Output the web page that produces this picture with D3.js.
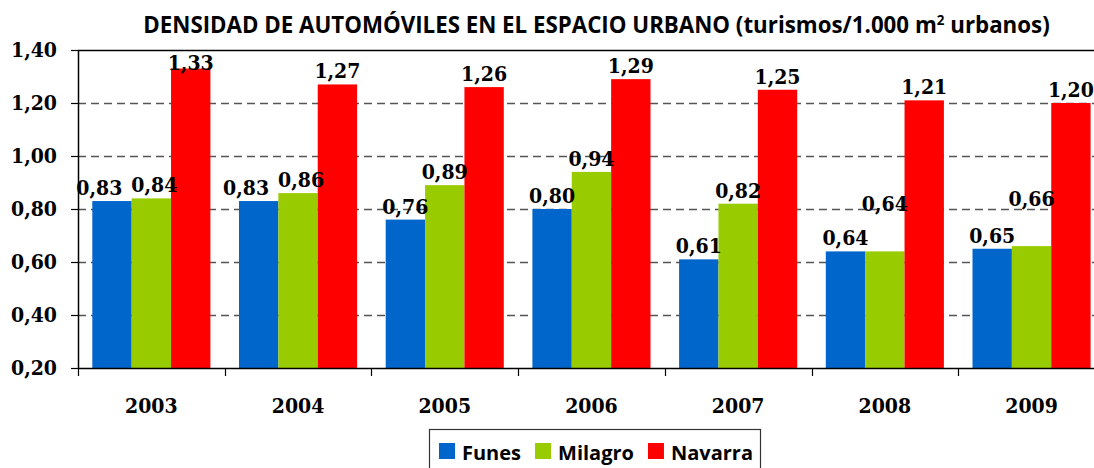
<!DOCTYPE html>
<html>
<head>
<meta charset="utf-8">
<script src="https://cdn.jsdelivr.net/npm/d3@7"></script>
<style>
  html, body { margin: 0; padding: 0; background: #fff; }
  svg { display: block; }
  .num { font-family: 'DejaVu Serif Condensed', 'DejaVu Serif', serif; font-stretch: condensed; font-weight: bold; }
</style>
</head>
<body>
<svg id="chart" width="1094" height="468"></svg>
<script>
const years = ["2003", "2004", "2005", "2006", "2007", "2008", "2009"];
const seriesNames = ["Funes", "Milagro", "Navarra"];
const funes   = [0.83, 0.83, 0.76, 0.80, 0.61, 0.64, 0.65];
const milagro = [0.84, 0.86, 0.89, 0.94, 0.82, 0.64, 0.66];
const navarra = [1.33, 1.27, 1.26, 1.29, 1.25, 1.21, 1.20];
const yTicks = [0.20, 0.40, 0.60, 0.80, 1.00, 1.20, 1.40];
const colors = ["#0066CC", "#99CC00", "#FF0000"];
// labels that Excel moved up to avoid a neighbour label (Milagro series)
const milagroLabelRaised = [false, false, false, false, false, true, true];

(function () {
const seriesValues = [funes, milagro, navarra];
const fmt = v => v.toFixed(2).replace(".", ",");

const svg = d3.select("#chart");
const mLeft = 78, mTop = 50, mBottom = 368;
const bandW = 146.7;
const mRight = mLeft + years.length * bandW;

const x0 = d3.scaleBand().domain(years).range([mLeft, mRight]).paddingInner(0).paddingOuter(0);
const x1 = d3.scaleBand().domain(seriesNames).range([14.3, bandW - 14.3]).padding(0);
const y = d3.scaleLinear().domain([0.2, 1.4]).range([mBottom, mTop]);

const sansFont = "'Open Sans', 'Noto Sans', sans-serif";
const numSize = 21;

// gridlines
svg.append("g").selectAll("line")
  .data(yTicks.filter(t => t > 0.2 && t < 1.4))
  .join("line")
  .attr("x1", mLeft).attr("x2", mRight)
  .attr("y1", d => Math.round(y(d)) + 0.5).attr("y2", d => Math.round(y(d)) + 0.5)
  .attr("stroke", "#555").attr("stroke-width", 1.3)
  .attr("stroke-dasharray", "8,5");

// top border
svg.append("line")
  .attr("x1", mLeft).attr("x2", mRight)
  .attr("y1", y(1.4) + 0.5).attr("y2", y(1.4) + 0.5)
  .attr("stroke", "#000").attr("stroke-width", 1.5);

// bars
const groups = svg.append("g").selectAll("g")
  .data(years)
  .join("g")
  .attr("transform", d => `translate(${x0(d)},0)`);

groups.selectAll("rect")
  .data((d, i) => seriesNames.map((s, k) => ({ s, k, v: seriesValues[k][i], i })))
  .join("rect")
  .attr("x", d => x1(d.s))
  .attr("width", x1.bandwidth())
  .attr("y", d => y(d.v))
  .attr("height", d => y(0.2) - y(d.v))
  .attr("fill", d => colors[d.k]);

// value labels
const labels = groups.selectAll("text.val")
  .data((d, i) => seriesNames.map((s, k) => ({ s, k, v: seriesValues[k][i], i })))
  .join("text")
  .attr("class", "val num")
  .attr("x", d => x1(d.s) + x1.bandwidth() / 2)
  .attr("y", d => {
    let b = y(d.v) - 6;
    if (d.k === 1 && milagroLabelRaised[d.i]) b -= 34;
    return Math.max(b, mTop + 20);
  })
  .attr("text-anchor", "middle")
  .attr("font-size", numSize)
  .attr("fill", "#000")
  .text(d => fmt(d.v));

// simple collision resolution between Funes and Milagro labels in each group
groups.each(function () {
  const ts = d3.select(this).selectAll("text.val").nodes();
  const a = ts[0], b = ts[1];
  const ba = a.getBBox(), bb = b.getBBox();
  const hOverlap = ba.x + ba.width > bb.x && bb.x + bb.width > ba.x;
  const vOverlap = ba.y + ba.height - 6 > bb.y && bb.y + bb.height - 6 > ba.y;
  if (hOverlap && vOverlap) {
    const bx = +b.getAttribute("x") + 3;
    b.setAttribute("x", bx);
    const bLeft = bx - bb.width / 2;
    a.setAttribute("x", bLeft - 9 - ba.width / 2);
  }
});

// y axis
const yAxis = svg.append("g")
  .attr("transform", `translate(${mLeft},0)`)
  .call(d3.axisLeft(y).tickValues(yTicks).tickSize(7).tickSizeOuter(0).tickFormat(fmt));
yAxis.attr("font-family", null);
yAxis.select(".domain").attr("stroke", "#000").attr("stroke-width", 1.5);
yAxis.selectAll(".tick line").attr("stroke", "#000").attr("stroke-width", 1.2);
yAxis.selectAll(".tick text")
  .attr("class", "num")
  .attr("x", -21)
  .attr("font-size", numSize)
  .attr("fill", "#000");

// x axis
const xAxis = svg.append("g")
  .attr("transform", `translate(0,${mBottom})`)
  .call(d3.axisBottom(x0).tickSize(0).tickSizeOuter(0));
xAxis.attr("font-family", null);
xAxis.select(".domain").attr("stroke", "#000").attr("stroke-width", 1.5);
xAxis.selectAll(".tick text")
  .attr("class", "num")
  .attr("dy", 0).attr("y", 45)
  .attr("font-size", numSize)
  .attr("fill", "#000");
// category separators
svg.append("g").selectAll("line")
  .data(years)
  .join("line")
  .attr("x1", d => Math.round(x0(d)) + 0.5).attr("x2", d => Math.round(x0(d)) + 0.5)
  .attr("y1", mBottom).attr("y2", mBottom + 8)
  .attr("stroke", "#000").attr("stroke-width", 1.2);

// title
const title = svg.append("text")
  .attr("x", 596.5).attr("y", 33)
  .attr("text-anchor", "middle")
  .attr("font-family", sansFont).attr("font-weight", "bold")
  .attr("font-size", 20).attr("fill", "#000");
title.append("tspan").text("DENSIDAD DE AUTOMÓVILES EN EL ESPACIO URBANO (turismos/1.000 m");
title.append("tspan").attr("dy", -8).attr("font-size", "0.6em").text("2");
title.append("tspan").attr("dy", 8).text(" urbanos)");
const tw = title.node().getComputedTextLength();
title.attr("font-size", 20 * 907 / tw);

// legend
const lg = svg.append("g");
lg.append("rect")
  .attr("x", 429.5).attr("y", 429.5).attr("width", 331).attr("height", 50)
  .attr("fill", "#fff").attr("stroke", "#333").attr("stroke-width", 1.2);
let lx = 439;
seriesNames.forEach((s, k) => {
  lg.append("rect").attr("x", lx).attr("y", 443).attr("width", 16).attr("height", 16).attr("fill", colors[k]);
  const t = lg.append("text")
    .attr("x", lx + 23).attr("y", 459.5)
    .attr("font-family", sansFont).attr("font-weight", "bold").attr("font-size", 20)
    .attr("fill", "#000").text(s);
  lx += 23 + t.node().getComputedTextLength() + 14;
});
})();
</script>
</body>
</html>
